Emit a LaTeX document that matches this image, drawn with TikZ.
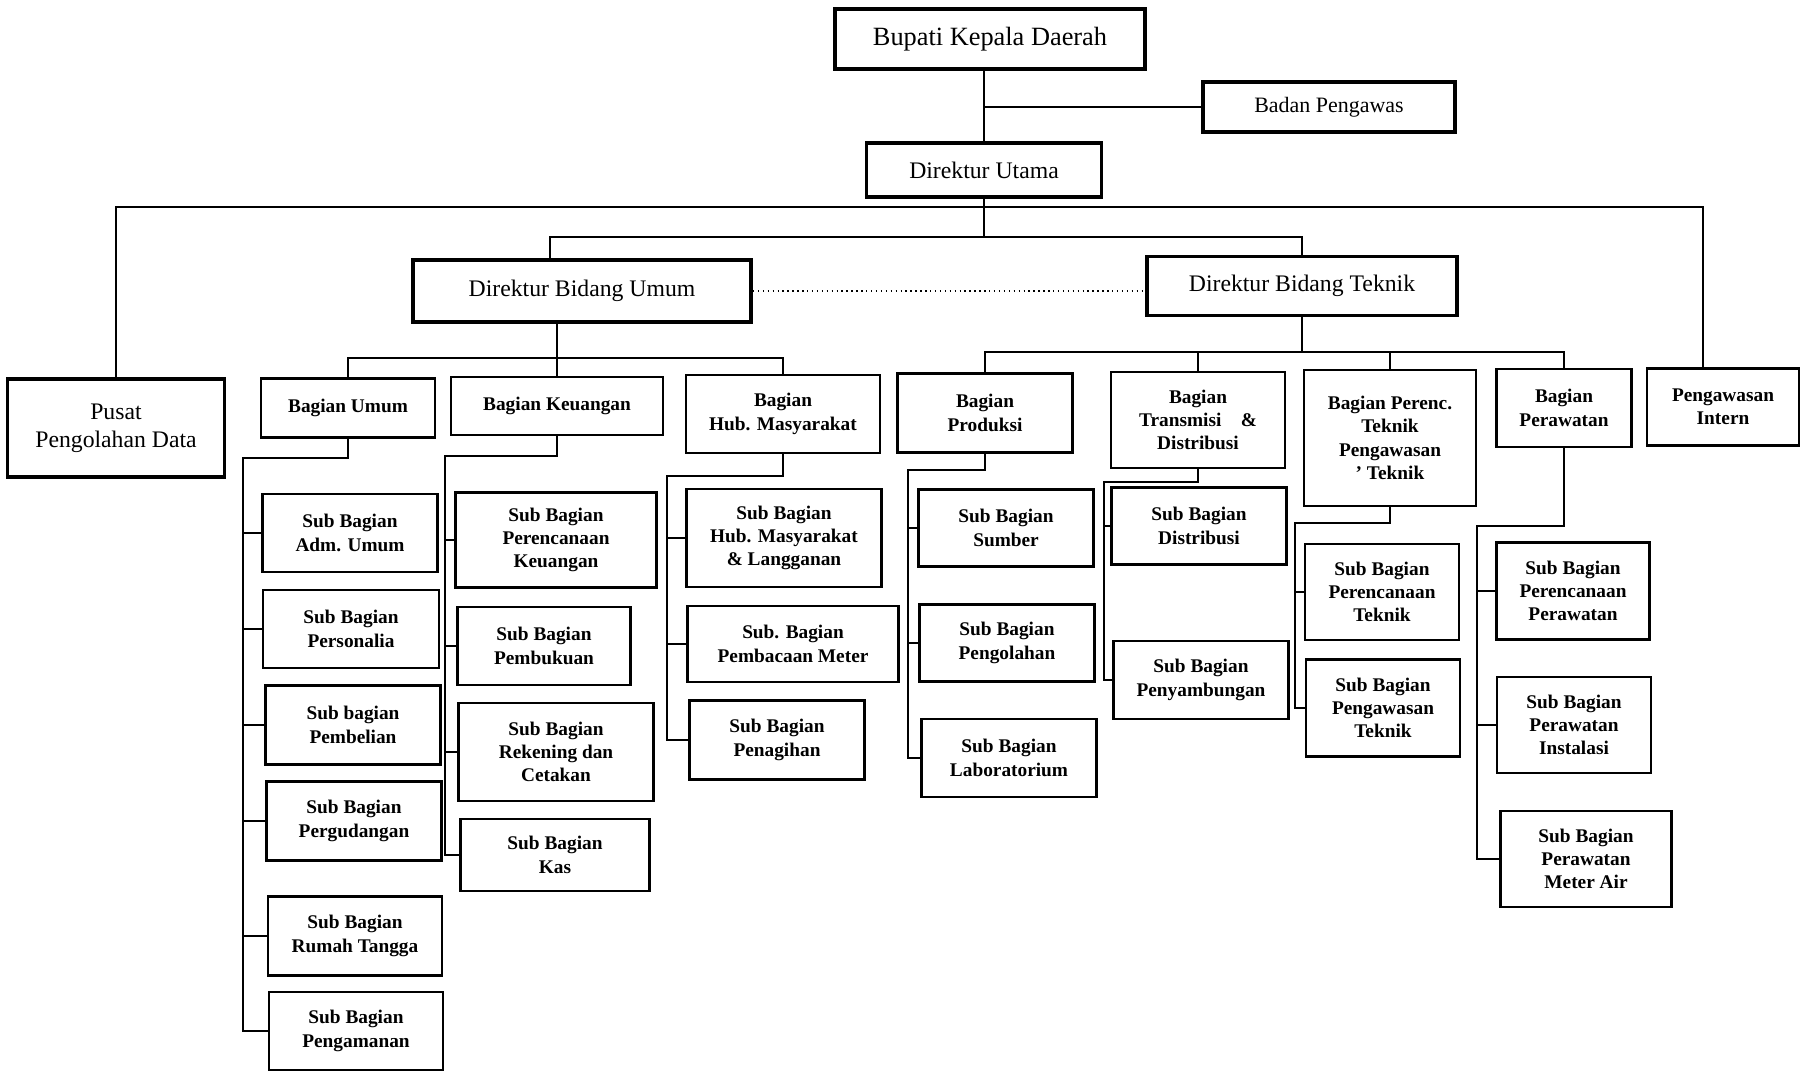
\documentclass[tikz,border=0pt]{standalone}
\usepackage{fontspec}
\setmainfont{Liberation Serif}
\usetikzlibrary{positioning}
\tikzset{
  kotak/.style={draw, line width=1.6pt, align=center, inner sep=1pt, font=\fontsize{11}{13.3}\selectfont\bfseries},
  kotakbesar/.style={draw, line width=2.2pt, align=center, inner sep=1pt, font=\fontsize{13.5}{16}\selectfont},
  ukuran/.style 2 args={minimum width=#1*0.02cm, minimum height=#2*0.02cm},
  garis/.style={line width=1.5pt},
}

\begin{document}
\begin{tikzpicture}[x=0.02cm, y=-0.02cm, garis]
\useasboundingbox (0,0) rectangle (1801,1072);

\node[kotakbesar, ukuran={310}{60}, font=\fontsize{15}{18}\selectfont] (bupati) at (990,39) {Bupati Kepala Daerah};
\node[kotakbesar, ukuran={252}{50}, font=\fontsize{12.5}{15}\selectfont] (badan) at (1329,107) {Badan Pengawas};
\node[kotakbesar, ukuran={235}{54}] (dirut) at (984,170) {Direktur Utama};
\node[kotakbesar, ukuran={338}{62}] (dbu) at (582,291) {Direktur Bidang Umum};
\node[kotakbesar, ukuran={310}{59}] (dbt) at (1302,286) {Direktur Bidang Teknik};
\node[kotakbesar, ukuran={217}{98}] (pusat) at (116,428) {Pusat\\Pengolahan Data};

\node[kotak, ukuran={174}{59}] (bumum) at (348,408) {Bagian Umum};
\node[kotak, ukuran={212}{58}] (bkeu) at (557,406) {Bagian Keuangan};
\node[kotak, ukuran={194}{78}] (bhub) at (783,414) {Bagian\\Hub. Masyarakat};
\node[kotak, ukuran={175}{79}] (bprod) at (985,413) {Bagian\\Produksi};
\node[kotak, ukuran={174}{96}] (btrans) at (1198,420) {Bagian\\Transmisi\quad\&\\Distribusi};
\node[kotak, ukuran={172}{136}] (bperenc) at (1390,438) {Bagian Perenc.\\Teknik\\Pengawasan\\' Teknik};
\node[kotak, ukuran={135}{78}] (bawat) at (1564,408) {Bagian\\Perawatan};
\node[kotak, ukuran={152}{77}] (intern) at (1723,407) {Pengawasan\\Intern};

\node[kotak, ukuran={175}{78}] (sbadm) at (350,533) {Sub Bagian\\Adm. Umum};
\node[kotak, ukuran={176}{78}] (sbpers) at (351,629) {Sub Bagian\\Personalia};
\node[kotak, ukuran={175}{79}] (sbbeli) at (353,725) {Sub bagian\\Pembelian};
\node[kotak, ukuran={175}{79}] (sbgudang) at (354,821) {Sub Bagian\\Pergudangan};
\node[kotak, ukuran={174}{79}] (sbrt) at (355,936) {Sub Bagian\\Rumah Tangga};
\node[kotak, ukuran={174}{78}] (sbaman) at (356,1031) {Sub Bagian\\Pengamanan};

\node[kotak, ukuran={201}{95}] (sbrenku) at (556,540) {Sub Bagian\\Perencanaan\\Keuangan};
\node[kotak, ukuran={173}{78}] (sbbuku) at (544,646) {Sub Bagian\\Pembukuan};
\node[kotak, ukuran={195}{98}] (sbrek) at (556,752) {Sub Bagian\\Rekening dan\\Cetakan};
\node[kotak, ukuran={189}{72}] (sbkas) at (555,855) {Sub Bagian\\Kas};

\node[kotak, ukuran={195}{98}] (sbhub) at (784,538) {Sub Bagian\\Hub. Masyarakat\\\& Langganan};
\node[kotak, ukuran={211}{76}] (sbbaca) at (793,644) {Sub. Bagian\\Pembacaan Meter};
\node[kotak, ukuran={175}{79}] (sbtagih) at (777,740) {Sub Bagian\\Penagihan};

\node[kotak, ukuran={175}{77}] (sbsumber) at (1006,528) {Sub Bagian\\Sumber};
\node[kotak, ukuran={175}{77}] (sbolah) at (1007,643) {Sub Bagian\\Pengolahan};
\node[kotak, ukuran={175}{78}] (sblab) at (1009,758) {Sub Bagian\\Laboratorium};

\node[kotak, ukuran={175}{77}] (sbdist) at (1199,526) {Sub Bagian\\Distribusi};
\node[kotak, ukuran={175}{78}] (sbsambung) at (1201,680) {Sub Bagian\\Penyambungan};

\node[kotak, ukuran={154}{96}] (sbrentek) at (1382,592) {Sub Bagian\\Perencanaan\\Teknik};
\node[kotak, ukuran={154}{97}] (sbawastek) at (1383,708) {Sub Bagian\\Pengawasan\\Teknik};

\node[kotak, ukuran={153}{97}] (sbrenraw) at (1573,591) {Sub Bagian\\Perencanaan\\Perawatan};
\node[kotak, ukuran={154}{96}] (sbinst) at (1574,725) {Sub Bagian\\Perawatan\\Instalasi};
\node[kotak, ukuran={171}{96}] (sbmeter) at (1586,859) {Sub Bagian\\Perawatan\\Meter Air};

\coordinate (bus1) at (984,207);
\coordinate (bus2) at (984,237);
\coordinate (bus3) at (557,358);
\coordinate (bus4) at (1302,352);

\draw (dirut.north) -- (dirut.north |- bupati.south);
\draw (dirut.north |- badan.west) -- (badan.west);
\draw (dirut.south) -- (bus2);
\draw (pusat.north) |- (bus1) -| ([xshift=-0.4cm]intern.north);
\draw ([xshift=-0.64cm]dbu.north) |- (bus2) -| (dbt.north);
\draw[dotted, line width=0.8pt] (dbu.east) -- (dbu.east -| dbt.west);

\draw (bkeu.north) -- (bkeu.north |- dbu.south);
\draw (bumum.north) |- (bus3) -| (bhub.north);
\draw (dbt.south) -- (bus4);
\draw (bprod.north) |- (bus4) -| (bawat.north);
\draw (btrans.north) -- (btrans.north |- bus4);
\draw (bperenc.north) -- (bperenc.north |- bus4);

\coordinate (kU) at (243,458);
\coordinate (kK) at (445,456);
\coordinate (kH) at (667,476);
\coordinate (kP) at (908,470);
\coordinate (kT) at (1104,482);
\coordinate (kR) at (1295,523);
\coordinate (kW) at (1477,526);

\draw (bumum.south) |- (kU) |- (sbaman.west);
\foreach \s in {sbadm,sbpers,sbbeli,sbgudang,sbrt} \draw (kU |- \s.west) -- (\s.west);
\draw (bkeu.south) |- (kK) |- (sbkas.west);
\foreach \s in {sbrenku,sbbuku,sbrek} \draw (kK |- \s.west) -- (\s.west);
\draw (bhub.south) |- (kH) |- (sbtagih.west);
\foreach \s in {sbhub,sbbaca} \draw (kH |- \s.west) -- (\s.west);
\draw (bprod.south) |- (kP) |- (sblab.west);
\foreach \s in {sbsumber,sbolah} \draw (kP |- \s.west) -- (\s.west);
\draw (btrans.south) |- (kT) |- (sbsambung.west);
\draw (kT |- sbdist.west) -- (sbdist.west);
\draw (bperenc.south) |- (kR) |- (sbawastek.west);
\draw (kR |- sbrentek.west) -- (sbrentek.west);
\draw (bawat.south) |- (kW) |- (sbmeter.west);
\foreach \s in {sbrenraw,sbinst} \draw (kW |- \s.west) -- (\s.west);
\end{tikzpicture}
\end{document}
